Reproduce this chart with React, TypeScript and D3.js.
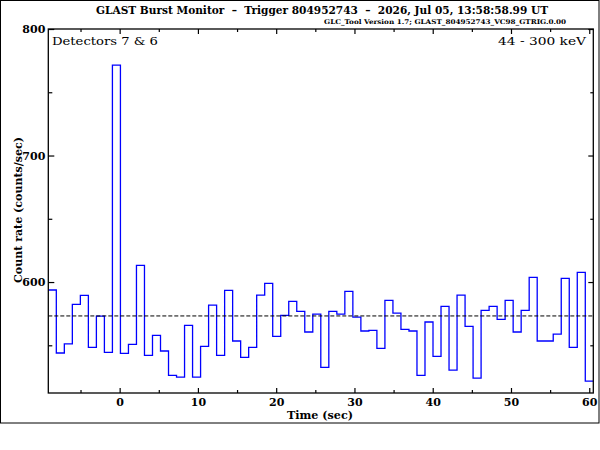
import { useEffect, useRef } from "react";
import * as d3 from "d3";

// 1.024 s bins, first edge at the left of the plot
const binStart = -9.116;
const binWidth = 1.024;

const counts = [
  593.7, 543.9, 551.2, 582.4, 589.5, 548.4, 573.1, 544.4, 771.5, 543.6,
  550.8, 613.2, 542.0, 557.9, 545.5, 526.2, 524.9, 565.8, 524.9, 549.2,
  581.8, 542.0, 593.4, 553.4, 540.5, 548.4, 589.7, 598.9, 557.1, 573.6,
  584.7, 576.8, 560.5, 574.7, 532.5, 576.8, 574.7, 592.6, 572.3, 561.3,
  561.8, 547.6, 585.5, 575.5, 562.6, 561.3, 526.2, 568.4, 541.3, 580.8,
  530.4, 589.7, 565.0, 524.1, 577.6, 580.8, 570.5, 585.5, 560.5, 577.6,
  603.7, 553.4, 553.4, 558.9, 602.9, 548.4, 607.7, 521.7,
];

const background = 573.2;

const xMajor = [0, 10, 20, 30, 40, 50, 60];
const xMinor = [-5, 5, 15, 25, 35, 45, 55];
const yMajor = [600, 700, 800];
const yMinor = [550, 650, 750];

const titleText =
  "GLAST Burst Monitor  \u2013  Trigger 804952743  \u2013  2026, Jul 05, 13:58:58.99 UT";
const versionText = "GLC_Tool Version 1.7; GLAST_804952743_VC98_GTRIG.0.00";
const detectorText = "Detectors 7 & 6";
const energyText = "44 - 300 keV";

const FONT = "'DejaVu Serif', serif";

export default function App() {
  const svgRef = useRef<SVGSVGElement>(null);

  useEffect(() => {
    if (!svgRef.current) return;
    const svg = d3.select(svgRef.current);
    svg.selectAll("*").remove();

    const left = 48.3;
    const right = 593.3;
    const top = 29;
    const bottom = 393;

    const x = d3
      .scaleLinear()
      .domain([binStart, binStart + binWidth * counts.length])
      .range([left, right]);
    const y = d3.scaleLinear().domain([512.3, 800]).range([bottom, top]);

    svg
      .append("rect")
      .attr("width", 600)
      .attr("height", 450)
      .attr("fill", "#fff");

    // outer frame
    svg
      .append("rect")
      .attr("x", 0.5)
      .attr("y", 0.5)
      .attr("width", 598.5)
      .attr("height", 422.5)
      .attr("fill", "none")
      .attr("stroke", "#000")
      .attr("stroke-width", 1);

    // histogram
    const pts: [number, number][] = counts.map((c, i) => [binStart + i * binWidth, c]);
    pts.push([binStart + counts.length * binWidth, counts[counts.length - 1]]);
    const line = d3
      .line<[number, number]>()
      .x((d) => x(d[0]))
      .y((d) => y(d[1]))
      .curve(d3.curveStepAfter);
    svg
      .append("path")
      .datum(pts)
      .attr("fill", "none")
      .attr("stroke", "#0000ff")
      .attr("stroke-width", 1.3)
      .attr("d", line);

    // background level
    svg
      .append("line")
      .attr("x1", left)
      .attr("x2", right)
      .attr("y1", y(background))
      .attr("y2", y(background))
      .attr("stroke", "#000")
      .attr("stroke-width", 1)
      .attr("stroke-dasharray", "4,2");

    const styleAxis = (g: d3.Selection<SVGGElement, unknown, null, undefined>) => {
      g.select(".domain").remove();
      g.selectAll("line").attr("stroke", "#000").attr("stroke-width", 1.2);
      g.selectAll("text")
        .attr("font-family", FONT)
        .attr("font-weight", "bold")
        .attr("font-size", 11)
        .attr("fill", "#000");
    };

    // bottom
    svg
      .append("g")
      .attr("transform", `translate(0,${bottom})`)
      .call(d3.axisBottom(x).tickValues(xMajor).tickSizeInner(-5).tickSizeOuter(0).tickPadding(5))
      .call(styleAxis);
    svg
      .append("g")
      .attr("transform", `translate(0,${bottom})`)
      .call(d3.axisBottom(x).tickValues(xMinor).tickSize(-3).tickFormat(() => ""))
      .call(styleAxis);
    // top
    svg
      .append("g")
      .attr("transform", `translate(0,${top})`)
      .call(d3.axisTop(x).tickValues(xMajor).tickSize(-5).tickFormat(() => ""))
      .call(styleAxis);
    svg
      .append("g")
      .attr("transform", `translate(0,${top})`)
      .call(d3.axisTop(x).tickValues(xMinor).tickSize(-3).tickFormat(() => ""))
      .call(styleAxis);
    // left
    svg
      .append("g")
      .attr("transform", `translate(${left},0)`)
      .call(d3.axisLeft(y).tickValues(yMajor).tickSizeInner(-6).tickSizeOuter(0).tickPadding(3))
      .call(styleAxis);
    svg
      .append("g")
      .attr("transform", `translate(${left},0)`)
      .call(d3.axisLeft(y).tickValues(yMinor).tickSize(-4).tickFormat(() => ""))
      .call(styleAxis);
    // right
    svg
      .append("g")
      .attr("transform", `translate(${right},0)`)
      .call(d3.axisLeft(y).tickValues(yMajor).tickSize(5).tickFormat(() => ""))
      .call(styleAxis);
    svg
      .append("g")
      .attr("transform", `translate(${right},0)`)
      .call(d3.axisLeft(y).tickValues(yMinor).tickSize(3).tickFormat(() => ""))
      .call(styleAxis);

    // plot frame
    svg
      .append("rect")
      .attr("x", left)
      .attr("y", top)
      .attr("width", right - left)
      .attr("height", bottom - top)
      .attr("fill", "none")
      .attr("stroke", "#000")
      .attr("stroke-width", 1.3);

    const text = (
      t: string,
      tx: number,
      ty: number,
      size: number,
      anchor: string,
      weight = "normal",
      len?: number
    ) => {
      const el = svg
        .append("text")
        .attr("x", tx)
        .attr("y", ty)
        .attr("font-family", FONT)
        .attr("font-size", size)
        .attr("font-weight", weight)
        .attr("text-anchor", anchor)
        .attr("fill", "#000")
        .style("white-space", "pre")
        .text(t);
      if (len) el.attr("textLength", len).attr("lengthAdjust", "spacingAndGlyphs");
      return el;
    };

    text(titleText, 322, 14, 11.5, "middle", "bold", 452);
    text(versionText, 566, 24, 6.5, "end", "bold", 242);
    text(detectorText, 52, 45, 11, "start", "normal", 106);
    text(energyText, 586, 45, 11, "end", "normal", 88);
    text("Time (sec)", 320, 419, 11, "middle", "bold", 66);
    text("Count rate (counts/sec)", 0, 0, 11, "middle", "bold", 146).attr(
      "transform",
      "translate(22,210) rotate(-90)"
    );
  }, []);

  return (
    <svg
      ref={svgRef}
      width={600}
      height={450}
      style={{ position: "absolute", left: 0, top: 0, display: "block" }}
    />
  );
}
